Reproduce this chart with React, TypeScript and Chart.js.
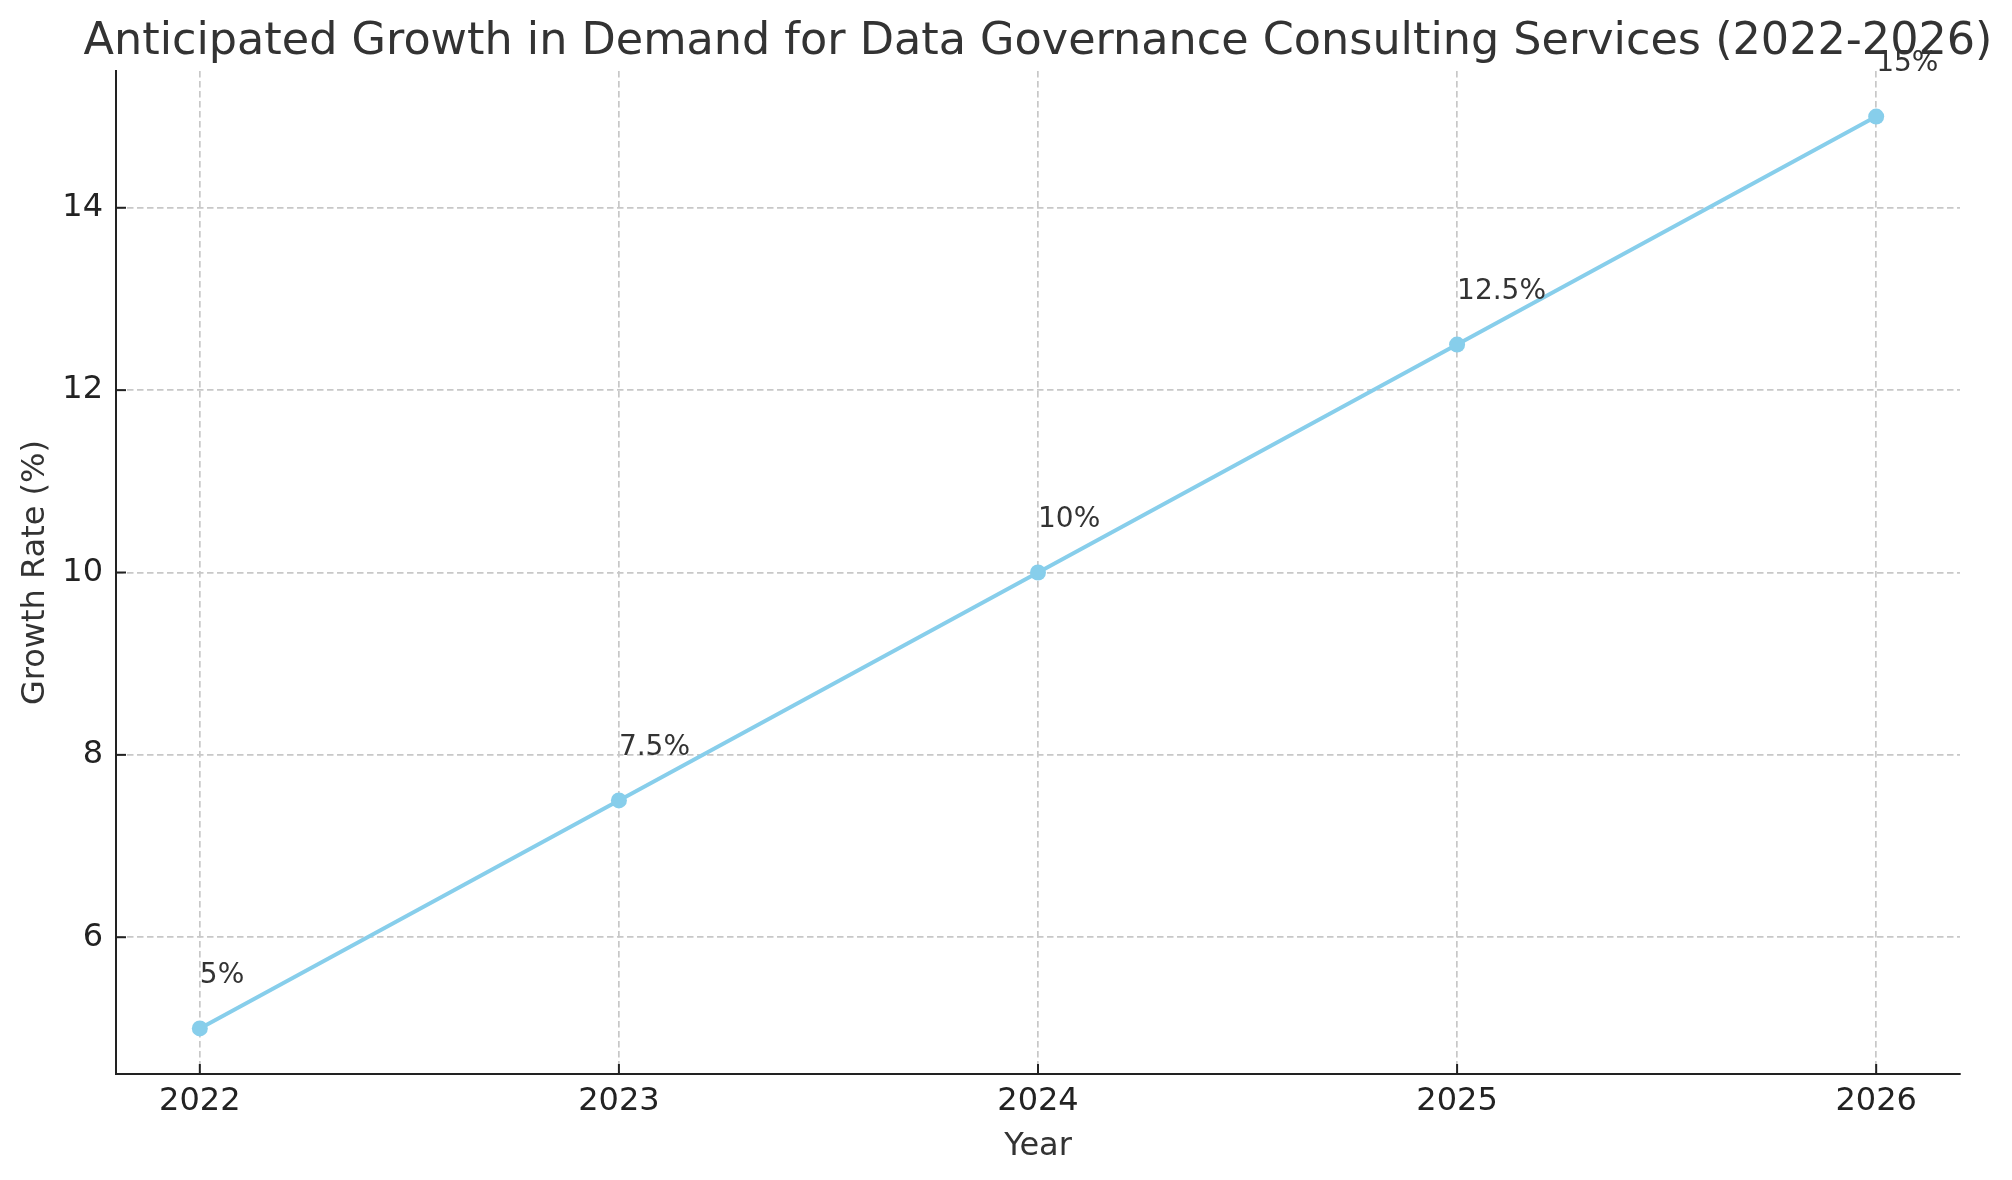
import { useEffect, useRef } from 'react';
import { Chart, registerables } from 'chart.js';

Chart.register(...registerables);

const years = [2022, 2023, 2024, 2025, 2026];
const growthRates = [5, 7.5, 10, 12.5, 15];
const pointLabels = ['5%', '7.5%', '10%', '12.5%', '15%'];
const yTickValues = [6, 8, 10, 12, 14];

const TITLE = 'Anticipated Growth in Demand for Data Governance Consulting Services (2022-2026)';
const FONT = "'DejaVu Sans', sans-serif";
const LINE_COLOR = '#87CEEB';

// title centred over the plot area, like matplotlib does
const titlePlugin = {
  id: 'topTitle',
  afterDraw(chart: any) {
    const { ctx, chartArea } = chart;
    ctx.save();
    ctx.font = `44.5px ${FONT}`;
    ctx.fillStyle = '#333333';
    ctx.textAlign = 'center';
    ctx.textBaseline = 'alphabetic';
    ctx.fillText(TITLE, (chartArea.left + chartArea.right) / 2, 54);
    ctx.restore();
  },
};

// ticks pointing into the plot
const inwardTicks = {
  id: 'inwardTicks',
  beforeDatasetsDraw(chart: any) {
    const { ctx, chartArea, scales } = chart;
    ctx.save();
    ctx.strokeStyle = '#222222';
    ctx.lineWidth = 2;
    scales.x.ticks.forEach((_t: any, i: number) => {
      const px = scales.x.getPixelForTick(i);
      ctx.beginPath();
      ctx.moveTo(px, chartArea.bottom);
      ctx.lineTo(px, chartArea.bottom - 10);
      ctx.stroke();
    });
    scales.y.ticks.forEach((_t: any, i: number) => {
      const py = scales.y.getPixelForTick(i);
      ctx.beginPath();
      ctx.moveTo(chartArea.left, py);
      ctx.lineTo(chartArea.left + 10, py);
      ctx.stroke();
    });
    ctx.restore();
  },
};

// "5%" etc. written half a unit above each point
const valueLabels = {
  id: 'valueLabels',
  afterDatasetsDraw(chart: any) {
    const { ctx, scales } = chart;
    ctx.save();
    ctx.font = `28px ${FONT}`;
    ctx.fillStyle = '#333333';
    ctx.textAlign = 'left';
    ctx.textBaseline = 'alphabetic';
    growthRates.forEach((v, i) => {
      ctx.fillText(pointLabels[i], scales.x.getPixelForValue(years[i]), scales.y.getPixelForValue(v + 0.5));
    });
    ctx.restore();
  },
};

export default function App() {
  const canvasRef = useRef<HTMLCanvasElement>(null);

  useEffect(() => {
    document.body.style.margin = '0';
    if (!canvasRef.current) return;

    const gridColor = '#c8c8c8';
    const gridDash = [6.5, 3.5];
    const chart = new Chart(canvasRef.current, {
      type: 'line',
      data: {
        datasets: [
          {
            label: 'Growth Rate',
            data: years.map((yr, i) => ({ x: yr, y: growthRates[i] })),
            borderColor: LINE_COLOR,
            backgroundColor: LINE_COLOR,
            borderWidth: 4,
            pointRadius: 8,
            pointBorderWidth: 0,
            tension: 0,
          },
        ],
      },
      options: {
        responsive: false,
        devicePixelRatio: 1,
        animation: false,
        layout: { padding: { top: 71, right: 52, left: 0, bottom: 0 } },
        plugins: {
          legend: { display: false },
          tooltip: { enabled: false },
        },
        scales: {
          x: {
            type: 'linear',
            min: 2021.8,
            max: 2026.2,
            afterBuildTicks: (s: any) => {
              s.ticks = years.map((v) => ({ value: v }));
            },
            afterFit: (s: any) => {
              s.height = 106;
            },
            ticks: {
              callback: (v: any) => String(v),
              font: { family: FONT, size: 32 },
              color: '#222222',
              padding: 8,
              maxRotation: 0,
              autoSkip: false,
            },
            grid: { color: gridColor, lineWidth: 1.7, drawTicks: false },
            border: { display: true, color: '#222222', width: 2, dash: gridDash },
            title: {
              display: true,
              text: 'Year',
              font: { family: FONT, size: 32 },
              color: '#333333',
              padding: { top: 0, bottom: 14 },
            },
          },
          y: {
            type: 'linear',
            min: 4.5,
            max: 15.5,
            afterBuildTicks: (s: any) => {
              s.ticks = yTickValues.map((v) => ({ value: v }));
            },
            afterFit: (s: any) => {
              s.width = 116;
            },
            ticks: {
              font: { family: FONT, size: 32 },
              color: '#222222',
              padding: 13,
            },
            grid: { color: gridColor, lineWidth: 1.7, drawTicks: false },
            border: { display: true, color: '#222222', width: 2, dash: gridDash },
            title: {
              display: true,
              text: 'Growth Rate (%)',
              font: { family: FONT, size: 32 },
              color: '#333333',
              padding: { top: 16, bottom: 0 },
            },
          },
        },
      },
      plugins: [inwardTicks, valueLabels, titlePlugin],
    } as any);

    return () => chart.destroy();
  }, []);

  return (
    <div style={{ width: 2012, height: 1180, background: '#ffffff' }}>
      <canvas ref={canvasRef} width={2012} height={1180} style={{ width: 2012, height: 1180, display: 'block' }} />
    </div>
  );
}
